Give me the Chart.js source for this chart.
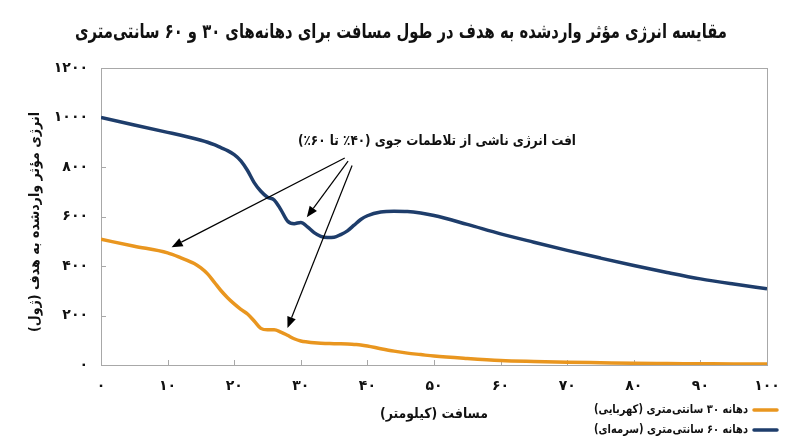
<!DOCTYPE html>
<html>
<head>
<meta charset="utf-8">
<script src="https://cdn.jsdelivr.net/npm/chart.js@4.4.1/dist/chart.umd.min.js"></script>
<style>
  html, body { margin: 0; padding: 0; background: #fff; }
  #wrap { width: 800px; height: 447px; }
</style>
</head>
<body>
<div id="wrap"><canvas id="myChart" width="800" height="447" dir="rtl"></canvas></div>
<script>
// distance along the path (km)
const distanceKm = [0, 5, 10, 12, 14, 15, 16, 17, 18, 19, 20, 21, 22, 23, 24, 25, 26, 27, 28, 29,
    30, 31, 32, 33, 34, 35, 36, 37, 38, 39, 40, 42, 44, 46, 48, 50, 55, 60, 65, 70, 75, 80, 85, 90, 95, 100];

// 30 cm aperture (amber)
const energy30cm = [508, 480, 453, 433, 410, 392, 368, 335, 301, 272, 247, 225, 206, 178, 148, 142, 142, 133, 120, 106,
    97, 93, 90, 88, 87, 86, 86, 85, 83, 81, 77, 66, 56, 48, 42, 36, 26, 18, 14, 11, 9, 7, 6, 5, 4, 4];

// 60 cm aperture (navy)
const energy60cm = [1000, 970, 940, 928, 915, 908, 900, 890, 878, 866, 850, 825, 786, 737, 702, 678, 667, 628, 582, 571,
    576, 558, 535, 520, 515, 516, 527, 542, 565, 588, 603, 618, 621, 620, 614, 604, 568, 530, 496, 463, 432, 402, 374, 348, 327, 308];

const xTickLabels = ["۰", "۱۰", "۲۰", "۳۰", "۴۰", "۵۰", "۶۰", "۷۰", "۸۰", "۹۰", "۱۰۰"];
const yTickLabels = ["۰", "۲۰۰", "۴۰۰", "۶۰۰", "۸۰۰", "۱۰۰۰", "۱۲۰۰"];

const seriesNames = ["دهانه ۳۰ سانتی‌متری (کهربایی)", "دهانه ۶۰ سانتی‌متری (سرمه‌ای)"];
const seriesColors = ["#E9961F", "#1E3D6B"];

const titleText = "مقایسه انرژی مؤثر واردشده به هدف در طول مسافت برای دهانه‌های ۳۰ و ۶۰ سانتی‌متری";
const xTitle = "مسافت (کیلومتر)";
const yTitle = "انرژی مؤثر واردشده به هدف (ژول)";
const noteText = "افت انرژی ناشی از تلاطمات جوی (۴۰٪ تا ۶۰٪)";

// callout arrows, in chart units (km, joule)
const arrowTails = [[36.6, 836], [37.1, 824], [37.7, 806]];
const arrowTips = [[10.6, 476], [30.9, 597], [28.0, 150]];

const FONT = "DejaVu Sans";

function toPoints(values) {
    return distanceKm.map((d, i) => ({ x: d, y: values[i] }));
}

function drawArrow(ctx, x1, y1, x2, y2) {
    const ang = Math.atan2(y2 - y1, x2 - x1);
    const len = 11, half = 4.5;
    const bx = x2 - len * Math.cos(ang), by = y2 - len * Math.sin(ang);
    ctx.beginPath();
    ctx.moveTo(x1, y1);
    ctx.lineTo(bx, by);
    ctx.stroke();
    ctx.beginPath();
    ctx.moveTo(x2, y2);
    ctx.lineTo(bx + half * Math.sin(ang), by - half * Math.cos(ang));
    ctx.lineTo(bx - half * Math.sin(ang), by + half * Math.cos(ang));
    ctx.closePath();
    ctx.fill();
}

const decor = {
    id: "decor",
    beforeDatasetsDraw(chart) {
        const { ctx, chartArea: a, scales: { x, y } } = chart;
        ctx.save();
        ctx.strokeStyle = "#a8a8a8";
        ctx.lineWidth = 1;
        ctx.strokeRect(Math.round(a.left) + 0.5, Math.round(a.top) + 0.5,
            Math.round(a.width), Math.round(a.height));
        // tick marks point inward
        ctx.beginPath();
        x.ticks.forEach(t => {
            const px = Math.round(x.getPixelForValue(t.value)) + 0.5;
            ctx.moveTo(px, a.bottom);
            ctx.lineTo(px, a.bottom - 5);
        });
        y.ticks.forEach(t => {
            const py = Math.round(y.getPixelForValue(t.value)) + 0.5;
            ctx.moveTo(a.left, py);
            ctx.lineTo(a.left + 5, py);
        });
        ctx.stroke();
        ctx.restore();
    },
    afterDatasetsDraw(chart) {
        const { ctx, scales: { x, y } } = chart;
        ctx.save();
        ctx.strokeStyle = "#000";
        ctx.fillStyle = "#000";
        ctx.lineWidth = 1.2;
        arrowTails.forEach((t, i) => {
            const tip = arrowTips[i];
            drawArrow(ctx, x.getPixelForValue(t[0]), y.getPixelForValue(t[1]),
                x.getPixelForValue(tip[0]), y.getPixelForValue(tip[1]));
        });
        ctx.direction = "rtl";
        ctx.textAlign = "center";
        ctx.textBaseline = "middle";
        ctx.font = "bold 14px '" + FONT + "'";
        ctx.fillStyle = "#111";
        ctx.fillText(noteText, 437, 141, 278);
        ctx.restore();
    },
    afterDraw(chart) {
        const { ctx, chartArea: a } = chart;
        ctx.save();
        ctx.direction = "rtl";
        ctx.fillStyle = "#111";
        ctx.textBaseline = "middle";
        ctx.textAlign = "center";

        // title
        ctx.font = "bold 20px '" + FONT + "'";
        ctx.fillText(titleText, 401, 33, 652);

        // x axis title
        ctx.font = "bold 14px '" + FONT + "'";
        ctx.fillText(xTitle, (a.left + a.right) / 2, 414, 108);

        // y axis title
        ctx.save();
        ctx.translate(35, 222);
        ctx.rotate(-Math.PI / 2);
        ctx.fillText(yTitle, 0, 0, 220);
        ctx.restore();

        // legend
        ctx.font = "bold 12px '" + FONT + "'";
        ctx.textAlign = "right";
        ctx.lineCap = "round";
        ctx.lineWidth = 3.5;
        [410, 430].forEach((ry, i) => {
            ctx.strokeStyle = seriesColors[i];
            ctx.beginPath();
            ctx.moveTo(754, ry);
            ctx.lineTo(777, ry);
            ctx.stroke();
            ctx.fillText(seriesNames[i], 748, ry, 154);
        });
        ctx.restore();
    }
};

const tickFont = { family: FONT, weight: "bold", size: 14 };

new Chart(document.getElementById("myChart"), {
    type: "line",
    data: {
        datasets: [
            {
                label: seriesNames[0],
                data: toPoints(energy30cm),
                borderColor: seriesColors[0],
                borderWidth: 3.5,
                pointRadius: 0,
                cubicInterpolationMode: "monotone",
                fill: false
            },
            {
                label: seriesNames[1],
                data: toPoints(energy60cm),
                borderColor: seriesColors[1],
                borderWidth: 3.5,
                pointRadius: 0,
                cubicInterpolationMode: "monotone",
                fill: false
            }
        ]
    },
    options: {
        responsive: false,
        animation: false,
        layout: { padding: { left: 0, right: 33, top: 68, bottom: 52 } },
        plugins: {
            legend: { display: false },
            tooltip: { enabled: false },
            title: { display: false }
        },
        scales: {
            x: {
                type: "linear",
                min: 0,
                max: 100,
                afterFit: s => { s.height = 30; },
                grid: { display: false, drawTicks: false },
                border: { display: false },
                ticks: {
                    stepSize: 10,
                    padding: 13,
                    autoSkip: false,
                    maxRotation: 0,
                    color: "#111",
                    font: tickFont,
                    callback: (v, i) => xTickLabels[i]
                }
            },
            y: {
                min: 0,
                max: 1200,
                afterFit: s => { s.width = 101; },
                grid: { display: false, drawTicks: false },
                border: { display: false },
                ticks: {
                    stepSize: 200,
                    padding: 13,
                    color: "#111",
                    font: tickFont,
                    callback: (v, i) => yTickLabels[i]
                }
            }
        }
    },
    plugins: [decor]
});
</script>
</body>
</html>
